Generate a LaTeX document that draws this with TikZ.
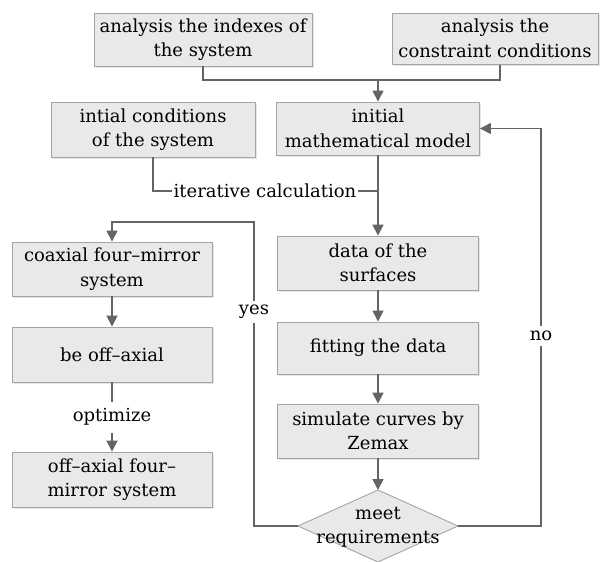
\documentclass[tikz,border=0pt]{standalone}
\usepackage{fontspec}
\setmainfont{DejaVu Serif}
\usetikzlibrary{shapes.geometric,arrows.meta,shadows}
\definecolor{boxfill}{HTML}{E9E9E9}
\definecolor{boxline}{HTML}{A4A4A4}
\definecolor{linec}{HTML}{646464}
\begin{document}
\begin{tikzpicture}[x=1pt,y=-1pt,
  txt/.style={font=\fontsize{18}{24.5}\selectfont},
  box/.style={txt, draw=boxline, fill=boxfill, line width=0.9pt, align=center, inner sep=0pt,
     drop shadow={shadow xshift=1.5pt, shadow yshift=-1.5pt, fill=black!25, opacity=0.4}},
  conn/.style={draw=linec, line width=1.6pt},
  arr/.style={conn, -{Triangle[length=11pt,width=11pt]}},
  lab/.style={txt, inner sep=1pt, fill=white}]
\useasboundingbox (0,0) rectangle (603,562);
% boxes
\node[box, minimum width=218pt, minimum height=53pt] (A) at (203,39.5) {analysis the indexes of\\the system};
\node[box, minimum width=206pt, minimum height=51pt] (B) at (495,38.5) {analysis the\\constraint conditions};
\node[box, minimum width=204pt, minimum height=55pt] (C) at (153,129.5) {intial conditions\\of the system};
\node[box, minimum width=203pt, minimum height=53pt] (D) at (378,128.5) {initial\\mathematical model};
\node[box, minimum width=201pt, minimum height=54pt] (E) at (378,263) {data of the\\surfaces};
\node[box, minimum width=201pt, minimum height=52pt] (F) at (378,348) {fitting the data};
\node[box, minimum width=201pt, minimum height=54pt] (G) at (378,431) {simulate curves by\\Zemax};
\node[box, minimum width=200pt, minimum height=54pt] (I) at (112,269) {coaxial four--mirror\\system};
\node[box, minimum width=200pt, minimum height=55pt] (J) at (112,354.5) {be off--axial};
\node[box, minimum width=200pt, minimum height=55pt] (K) at (112,479.5) {off--axial four--\\mirror system};
% diamond drawn directly
\path[draw=boxline, fill=boxfill, line width=0.9pt] (298,526) -- (378,490) -- (458,526) -- (378,562) -- cycle;
\node[txt, align=center, inner sep=0pt] (H) at (378,527) {meet\\requirements};
\coordinate (Hw) at (298,526);
\coordinate (He) at (458,526);
\coordinate (Ht) at (378,490);
% top merge
\coordinate (mj) at (378,80);
\coordinate (Bs) at (500,64.5);
\draw[conn] (A.south) |- (mj);
\draw[conn] (Bs) |- (mj);
\draw[arr] (mj) -- (D.north);
% iterative calculation
\node[txt, inner sep=1pt] (it) at (265,191) {iterative calculation};
\coordinate (ij) at (378,191);
\draw[conn] (C.south) |- (it.west);
\draw[conn] (it.east) -- (ij);
\draw[arr] (D.south) -- (E.north);
\draw[arr] (E.south) -- (F.north);
\draw[arr] (F.south) -- (G.north);
\draw[arr] (G.south) -- (Ht);
% yes branch
\coordinate (yl) at (254,526);
\coordinate (yt) at (254,222);
\draw[arr] (Hw) -- (yl) -- (yt) -| (I.north);
\node[lab, inner ysep=4pt] (yes) at (254,312) {yes};
% no branch
\coordinate (nr) at (541,526);
\draw[arr] (He) -- (nr) |- (D.east);
\node[lab, inner ysep=5pt] (no) at (541,336) {no};
% left chain
\draw[arr] (I.south) -- (J.north);
\coordinate (optop) at (112,402);
\node[txt, inner sep=1pt] (opt) at (112,417) {optimize};
\coordinate (opbot) at (112,433);
\draw[conn] (J.south) -- (optop);
\draw[arr] (opbot) -- (K.north);
\end{tikzpicture}
\end{document}
